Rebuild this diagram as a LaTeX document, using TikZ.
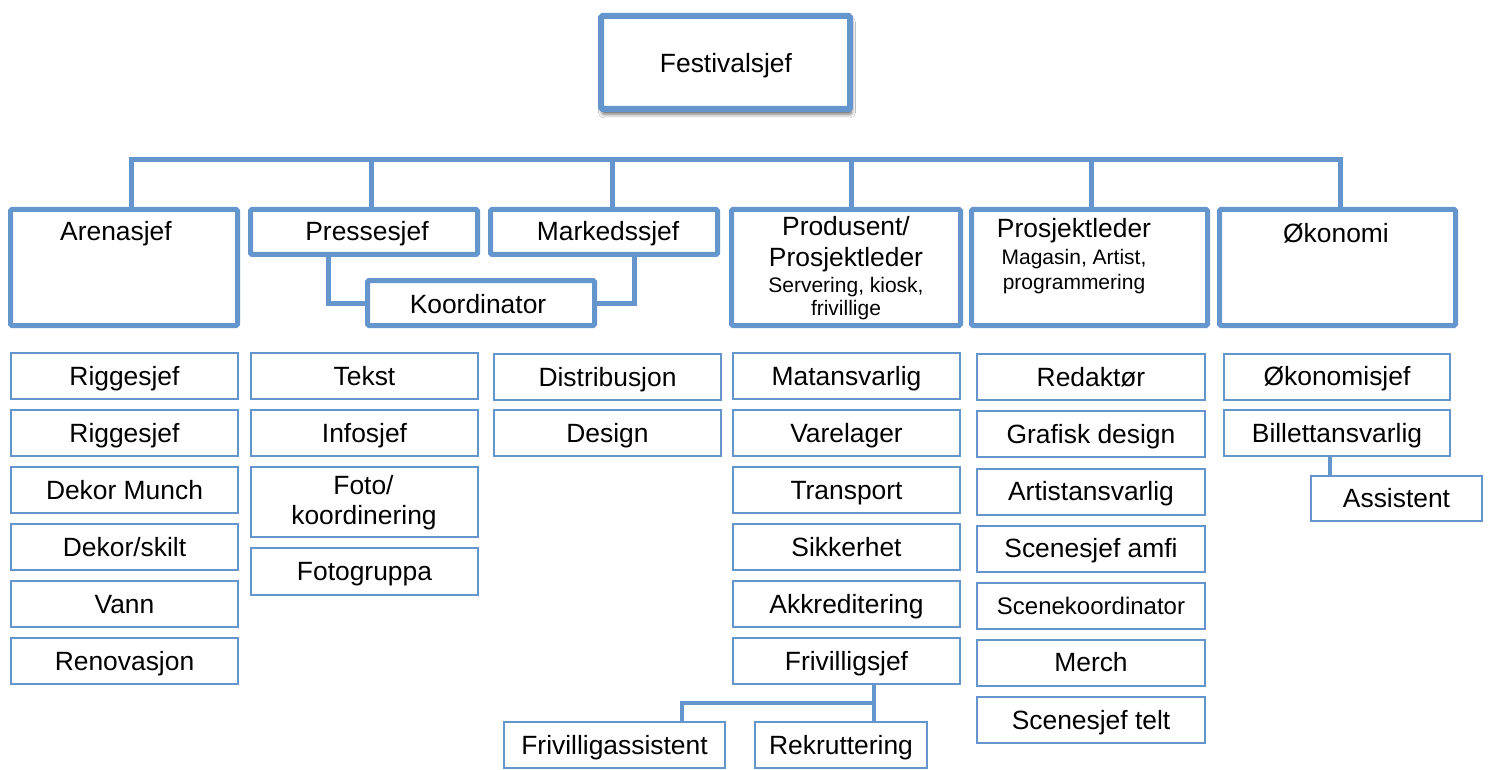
\documentclass[tikz,border=0pt]{standalone}
\usepackage{fontspec}
\setmainfont{Liberation Sans}
\usetikzlibrary{shadows.blur}
\definecolor{orgblue}{RGB}{100,149,205}
\newcommand\bigtxt{\fontsize{26.4}{31}\selectfont}
\newcommand\smalltxt{\fontsize{21}{24}\selectfont}
\newcommand\midtxt{\fontsize{24}{28}\selectfont}
\begin{document}
\begin{tikzpicture}[x=1pt,y=-1pt,
  head/.style={draw=orgblue, line width=5pt, rounded corners=1.5pt, fill=white,
    inner sep=0pt, outer sep=0pt},
  unit/.style={draw=orgblue, line width=2pt, fill=white, inner sep=0pt, outer sep=0pt,
    minimum width=227pt, minimum height=46pt, font=\bigtxt,
    text height=20pt, text depth=2pt},
  lbl/.style={anchor=base, inner sep=0pt, font=\bigtxt},
  sublbl/.style={anchor=base, inner sep=0pt, font=\smalltxt},
  link/.style={draw=orgblue, line width=5pt, line join=miter},
  twig/.style={draw=orgblue, line width=4pt},
]
\useasboundingbox (0,0) rectangle (1489,770);
\fill[white] (0,0) rectangle (1489,770);

% top of the organisation
\node[head, line width=6pt, minimum width=249pt, minimum height=93pt,
  blur shadow={shadow xshift=1.5pt, shadow yshift=-5pt, shadow blur radius=4pt, shadow opacity=65}]
  (chief) at (725.5,62.5) {};
\node[lbl] (chiefT) at (726,73) {Festivalsjef};

% department heads
\node[head, minimum width=227pt, minimum height=116pt] (arena)  at (124,267.5) {};
\node[head, minimum width=227pt, minimum height=45pt]  (presse) at (364,232) {};
\node[head, minimum width=227pt, minimum height=45pt]  (marked) at (604,232) {};
\node[head, minimum width=227pt, minimum height=45pt]  (koord)  at (481,303) {};
\node[head, minimum width=229pt, minimum height=116pt] (prod)   at (846,267.5) {};
\node[head, minimum width=236pt, minimum height=116pt] (proj)   at (1089.5,267.5) {};
\node[head, minimum width=236pt, minimum height=116pt] (oko)    at (1337.5,267.5) {};

\node[lbl] (arenaT)  at (116,241) {Arenasjef};
\node[lbl] (presseT) at (367,241) {Pressesjef};
\node[lbl] (markedT) at (608,241) {Markedssjef};
\node[lbl] (koordT)  at (478,313) {Koordinator};
\node[lbl] (prodT1)  at (846,236) {Produsent/};
\node[lbl] (prodT2)  at (846,266) {Prosjektleder};
\node[sublbl] (prodT3) at (846,292) {Servering, kiosk,};
\node[sublbl] (prodT4) at (846,316) {frivillige};
\node[lbl] (projT1)  at (1074,237.5) {Prosjektleder};
\node[sublbl] (projT2) at (1074,265) {Magasin, Artist,};
\node[sublbl] (projT3) at (1074,289.5) {programmering};
\node[lbl] (okoT)    at (1336,242.5) {Økonomi};

% bus from the top down to the department heads
\coordinate (dA)  at (131,160);
\coordinate (dP)  at (371,160);
\coordinate (dM)  at (612,160);
\coordinate (dPr) at (851,160);
\coordinate (dPj) at (1091,160);
\coordinate (dO)  at (1340,160);
\draw[link] (arena.north -| dA) -- (dA) -- (dO) -- (oko.north -| dO);
\draw[link] (dP)  -- (presse.north -| dP);
\draw[link] (dM)  -- (marked.north -| dM);
\draw[link] (dPr) -- (prod.north -| dPr);
\draw[link] (dPj) -- (proj.north -| dPj);

% shared coordinator
\coordinate (kP) at (328,303);
\coordinate (kM) at (634,303);
\draw[link] (presse.south -| kP) -- (kP) -- (koord.west);
\draw[link] (marked.south -| kM) -- (kM) -- (koord.east);

% Arenasjef
\node[unit] (a1) at (124.5,376) {Riggesjef};
\node[unit] (a2) at (124.5,433) {Riggesjef};
\node[unit] (a3) at (124.5,490) {Dekor Munch};
\node[unit] (a4) at (124.5,547) {Dekor/skilt};
\node[unit] (a5) at (124.5,604) {Vann};
\node[unit] (a6) at (124.5,661) {Renovasjon};

% Pressesjef
\node[unit] (p1) at (364.5,376) {Tekst};
\node[unit] (p2) at (364.5,433) {Infosjef};
\node[unit, minimum height=70pt] (p3) at (364.5,502) {};
\node[lbl] (p3T1) at (363.5,494) {Foto/};
\node[lbl] (p3T2) at (364,524) {koordinering};
\node[unit, minimum height=47pt] (p4) at (364.5,571.5) {Fotogruppa};

% Markedssjef
\node[unit] (m1) at (607.5,377) {Distribusjon};
\node[unit] (m2) at (607.5,433) {Design};

% Produsent
\node[unit] (r1) at (846.5,376) {Matansvarlig};
\node[unit] (r2) at (846.5,433) {Varelager};
\node[unit] (r3) at (846.5,490) {Transport};
\node[unit] (r4) at (846.5,547) {Sikkerhet};
\node[unit] (r5) at (846.5,604) {Akkreditering};
\node[unit] (r6) at (846.5,661) {Frivilligsjef};
\node[unit, minimum width=221pt] (frass)  at (614.5,745) {Frivilligassistent};
\node[unit, minimum width=172pt] (rekrut) at (841,745) {Rekruttering};
\coordinate (fR) at (874,703);
\coordinate (fL) at (682,703);
\draw[twig] (r6.south -| fR) -- (rekrut.north -| fR);
\draw[twig] (fR) -- (fL) -- (frass.north -| fL);

% Prosjektleder
\node[unit, minimum width=228pt] (j1) at (1091,377) {Redaktør};
\node[unit, minimum width=228pt] (j2) at (1091,434) {Grafisk design};
\node[unit, minimum width=228pt] (j3) at (1091,491.5) {Artistansvarlig};
\node[unit, minimum width=228pt] (j4) at (1091,548.5) {Scenesjef amfi};
\node[unit, minimum width=228pt, font=\midtxt, text height=18pt, text depth=2pt] (j5) at (1091,606) {Scenekoordinator};
\node[unit, minimum width=228pt] (j6) at (1091,662.5) {Merch};
\node[unit, minimum width=228pt] (j7) at (1091,720) {Scenesjef telt};

% Økonomi
\node[unit, minimum width=226pt] (o1) at (1337,376.5) {Økonomisjef};
\node[unit, minimum width=226pt] (o2) at (1337,433) {Billettansvarlig};
\node[unit, minimum width=171pt, minimum height=45pt] (assist) at (1396.5,498.5) {Assistent};
\coordinate (aS) at (1330,466);
\draw[twig] (o2.south -| aS) -- (assist.north -| aS);
\end{tikzpicture}
\end{document}
